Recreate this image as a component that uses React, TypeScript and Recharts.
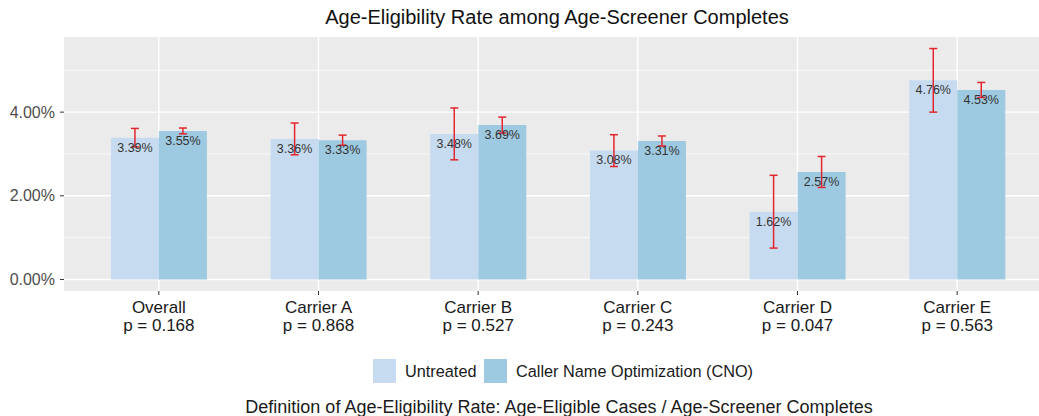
import React from "react";
import { BarChart, Bar, XAxis, YAxis, CartesianGrid, ErrorBar, LabelList } from "recharts";

const categories = ["Overall", "Carrier A", "Carrier B", "Carrier C", "Carrier D", "Carrier E"];
const pValues = ["0.168", "0.868", "0.527", "0.243", "0.047", "0.563"];
const untreated = [3.39, 3.36, 3.48, 3.08, 1.62, 4.76];
const untreatedErr = [0.22, 0.38, 0.62, 0.38, 0.87, 0.76];
const cno = [3.55, 3.33, 3.69, 3.31, 2.57, 4.53];
const cnoErr = [0.07, 0.12, 0.19, 0.12, 0.37, 0.18];
const yTicks = [0, 2, 4];
const yMinor = [1, 3, 5];
const yDomain = [-0.276, 5.796];

const data = categories.map((name, i) => ({
  name,
  untreated: untreated[i],
  untreatedErr: untreatedErr[i],
  cno: cno[i],
  cnoErr: cnoErr[i],
}));

const FONT = "'Liberation Sans', Arial, Helvetica, sans-serif";
const C_UNTREATED = "#C6DBEF";
const C_CNO = "#9ECAE1";
const C_ERR = "#E3262E";

const pct = (v: any) => Number(v).toFixed(2) + "%";

const XTick = ({ x, y, payload }: any) => {
  const idx = categories.indexOf(payload.value);
  return (
    <text x={x} y={y} textAnchor="middle" fill="#1a1a1a" fontSize={17} fontFamily={FONT}>
      <tspan x={x} dy={16}>{payload.value}</tspan>
      <tspan x={x} dy={17.5}>{`p = ${pValues[idx]}`}</tspan>
    </text>
  );
};

const App = () => {
  return (
    <div style={{ position: "absolute", left: 0, top: 0, width: 1039, height: 416, overflow: "hidden", background: "#fff" }}>
      <BarChart
        width={1060}
        height={416}
        data={data}
        margin={{ top: 37, right: 7, bottom: 0, left: 0 }}
        barCategoryGap="20%"
        barGap={0}
      >
        <CartesianGrid fill="#EBEBEB" stroke="#ffffff" strokeWidth={1.4} syncWithTicks horizontalValues={yTicks} />
        <CartesianGrid fill="none" stroke="#ffffff" strokeWidth={0.7} vertical={false} horizontalValues={yMinor} syncWithTicks />
        <XAxis
          dataKey="name"
          height={125}
          padding={{ left: 15, right: 16 }}
          axisLine={false}
          tickSize={4}
          tickLine={{ stroke: "#333333" }}
          tick={<XTick />}
          interval={0}
        />
        <YAxis
          width={64}
          domain={yDomain}
          ticks={yTicks}
          allowDataOverflow
          axisLine={false}
          tickSize={4}
          tickMargin={5}
          tickLine={{ stroke: "#333333" }}
          tickFormatter={pct}
          tick={{ fill: "#4d4d4d", fontSize: 16, fontFamily: FONT }}
        />
        <Bar dataKey="untreated" fill={C_UNTREATED} isAnimationActive={false}>
          <ErrorBar dataKey="untreatedErr" width={4} stroke={C_ERR} strokeWidth={1.5} />
          <LabelList
            dataKey="untreated"
            position="insideTop"
            offset={5}
            formatter={pct}
            style={{ fill: "#333333", fontSize: 12.5, fontFamily: FONT }}
          />
        </Bar>
        <Bar dataKey="cno" fill={C_CNO} isAnimationActive={false}>
          <ErrorBar dataKey="cnoErr" width={4} stroke={C_ERR} strokeWidth={1.5} />
          <LabelList
            dataKey="cno"
            position="insideTop"
            offset={5}
            formatter={pct}
            style={{ fill: "#333333", fontSize: 12.5, fontFamily: FONT }}
          />
        </Bar>
      </BarChart>
      <svg width={1039} height={416} style={{ position: "absolute", left: 0, top: 0, pointerEvents: "none" }}>
        <text x={557} y={24} textAnchor="middle" fontSize={20} fontFamily={FONT} fill="#111">
          Age-Eligibility Rate among Age-Screener Completes
        </text>
        <rect x={373} y={359} width={23} height={24} fill={C_UNTREATED} />
        <text x={405} y={377} fontSize={16.3} fontFamily={FONT} fill="#1a1a1a">Untreated</text>
        <rect x={484} y={359} width={23} height={24} fill={C_CNO} />
        <text x={516} y={377} fontSize={16.3} fontFamily={FONT} fill="#1a1a1a">Caller Name Optimization (CNO)</text>
        <text x={559} y={413} textAnchor="middle" fontSize={18} fontFamily={FONT} fill="#1a1a1a">
          Definition of Age-Eligibility Rate: Age-Eligible Cases / Age-Screener Completes
        </text>
      </svg>
    </div>
  );
};

export default App;
